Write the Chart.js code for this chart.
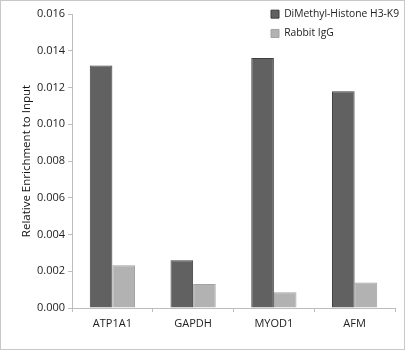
<!DOCTYPE html>
<html>
<head>
<meta charset="utf-8">
<script src="https://cdn.jsdelivr.net/npm/chart.js@4/dist/chart.umd.min.js"></script>
<style>
html,body{margin:0;padding:0;background:#fff;}
#wrap{position:relative;width:405px;height:350px;box-sizing:border-box;border:1px solid #c8c8c8;}
canvas{display:block;}
</style>
</head>
<body>
<div id="wrap"><canvas id="c" width="403" height="348"></canvas></div>
<script>
const categories = ['ATP1A1', 'GAPDH', 'MYOD1', 'AFM'];
const seriesNames = ['DiMethyl-Histone H3-K9', 'Rabbit IgG'];
const dimethylValues = [0.0132, 0.0026, 0.0136, 0.0118];
const iggValues = [0.00233, 0.0013, 0.00086, 0.00139];
const yTicks = [0, 0.002, 0.004, 0.006, 0.008, 0.010, 0.012, 0.014, 0.016];
const yTitle = 'Relative Enrichment to Input';

const FONT = "'Open Sans', 'Liberation Sans', sans-serif";

const legendMover = {
  id: 'legendMover',
  afterUpdate(chart) {
    const lg = chart.legend;
    if (!lg) return;
    const w = lg.width;
    lg.left = 261;
    lg.right = lg.left + w;
    lg.top = -1;
  }
};

new Chart(document.getElementById('c'), {
  type: 'bar',
  data: {
    labels: categories,
    datasets: [
      { label: seriesNames[0], data: dimethylValues, backgroundColor: '#616161', borderColor: '#3f3f3f', borderWidth: 1 },
      { label: seriesNames[1], data: iggValues, backgroundColor: '#b2b2b2', borderColor: '#a2a2a2', borderWidth: 1 }
    ]
  },
  options: {
    responsive: false,
    animation: false,
    events: [],
    layout: { padding: { left: 15, right: 9, top: 13, bottom: 15 } },
    datasets: { bar: { categoryPercentage: 0.56, barPercentage: 1.0 } },
    plugins: {
      legend: {
        position: 'chartArea',
        align: 'start',
        labels: {
          boxWidth: 8, boxHeight: 8, padding: 9,
          color: '#222',
          font: { family: FONT, size: 10.3 }
        }
      },
      tooltip: { enabled: false }
    },
    scales: {
      x: {
        grid: { display: true, drawOnChartArea: false, drawTicks: true, tickLength: 4, color: '#bdbdbd', offset: true },
        border: { color: '#bdbdbd' },
        ticks: { color: '#222', font: { family: FONT, size: 11 }, padding: 5 },
        afterFit(s) { s.height = 26; }
      },
      y: {
        min: 0, max: 0.016,
        afterBuildTicks(s) { s.ticks = yTicks.map(v => ({ value: v })); },
        grid: { display: true, drawOnChartArea: false, drawTicks: true, tickLength: 4, color: '#bdbdbd' },
        border: { color: '#bdbdbd' },
        ticks: { color: '#222', font: { family: FONT, size: 11 }, padding: 3, callback: v => v.toFixed(3) },
        title: { display: true, text: yTitle, color: '#111', font: { family: FONT, size: 11.5 }, padding: { top: 4, bottom: 4 } },
        afterFit(s) { s.width = 56; }
      }
    }
  },
  plugins: [legendMover]
});
</script>
</body>
</html>
